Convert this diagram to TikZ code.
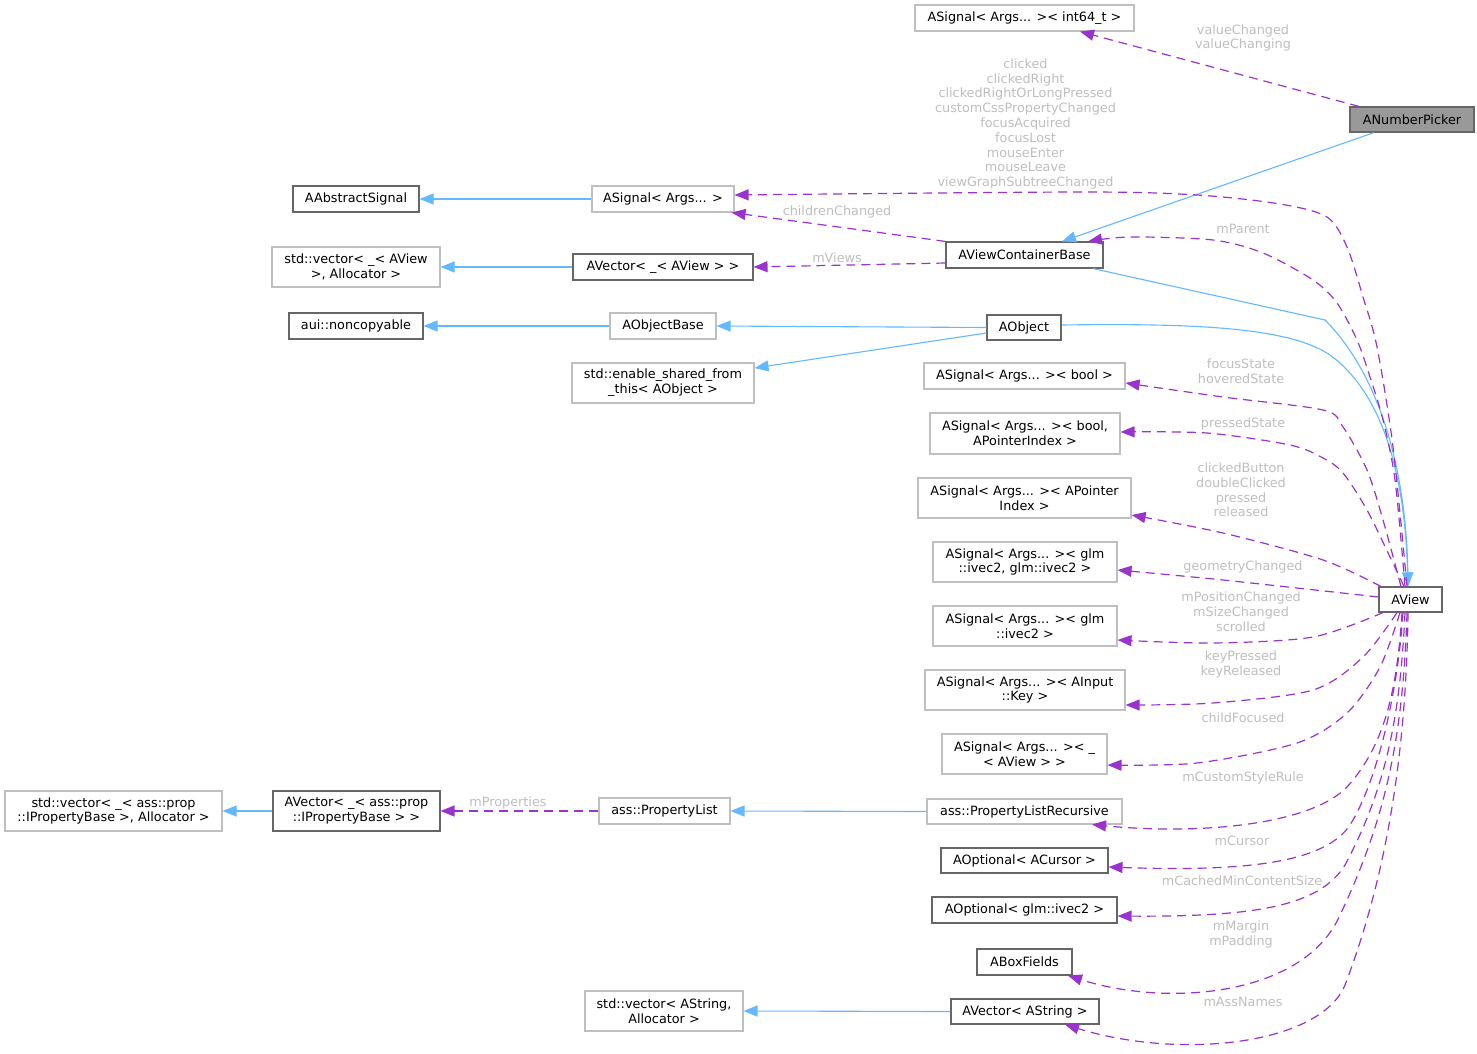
\documentclass[tikz,border=0pt]{standalone}
\usepackage{fontspec}
\setmainfont{DejaVu Sans}
\usetikzlibrary{arrows.meta}
\definecolor{eblue}{HTML}{63B8FF}
\definecolor{epurple}{HTML}{9A32CD}
\definecolor{lgray}{HTML}{BFBFBF}
\definecolor{dgray}{HTML}{666666}
\definecolor{lblgray}{HTML}{BEBEBE}
\definecolor{pfill}{HTML}{999999}
\begin{document}
\begin{tikzpicture}[x=1pt,y=-1pt,
  every node/.style={font=\fontsize{12.8}{14.8}\selectfont, inner sep=0pt, align=center},
  cls/.style={draw=lgray, line width=1.1pt, fill=white},
  doc/.style={draw=dgray, line width=1.1pt, fill=white},
  lbl/.style={text=lblgray},
  inh/.style={draw=eblue, line width=1.1pt, -{Triangle[length=14pt,width=11pt]}},
  use/.style={draw=epurple, line width=1.2pt, dash pattern=on 9pt off 6pt, -{Triangle[length=14pt,width=11pt]}}
]
\useasboundingbox (0,0) rectangle (1477,1053);

% nodes
\node[cls, minimum width=219, minimum height=26] (sigInt) at (1024.5,18) {ASignal< Args... >< int64\_t >};
\node[doc, fill=pfill, minimum width=124, minimum height=25] (picker) at (1412,119.5) {ANumberPicker};
\node[doc, minimum width=126, minimum height=26] (abstractSig) at (356,199) {AAbstractSignal};
\node[cls, minimum width=142, minimum height=26] (sigArgs) at (663,199) {ASignal< Args... >};
\node[cls, minimum width=168, minimum height=40] (vecView) at (356,267) {std::vector< \_< AView\\>, Allocator >};
\node[doc, minimum width=180, minimum height=26] (avecView) at (663,267) {AVector< \_< AView > >};
\node[doc, minimum width=157, minimum height=26] (avcb) at (1024.5,255) {AViewContainerBase};
\node[doc, minimum width=134, minimum height=26] (noncopy) at (356,326) {aui::noncopyable};
\node[cls, minimum width=106, minimum height=26] (objBase) at (663,326) {AObjectBase};
\node[doc, minimum width=74, minimum height=25] (aobject) at (1024,327.5) {AObject};
\node[cls, minimum width=182, minimum height=40] (enableShared) at (663,383) {std::enable\_shared\_from\\\_this< AObject >};
\node[cls, minimum width=201, minimum height=26] (sigBool) at (1024.5,376) {ASignal< Args... >< bool >};
\node[cls, minimum width=190, minimum height=41] (sigBoolPtr) at (1025,433.5) {ASignal< Args... >< bool,\\APointerIndex >};
\node[cls, minimum width=213, minimum height=40] (sigPtr) at (1024.5,498) {ASignal< Args... >< APointer\\Index >};
\node[cls, minimum width=184, minimum height=40] (sigIvecTwo) at (1025,562) {ASignal< Args... >< glm\\::ivec2, glm::ivec2 >};
\node[doc, minimum width=63, minimum height=25] (aview) at (1410.5,599.5) {AView};
\node[cls, minimum width=184, minimum height=40] (sigIvec) at (1025,626) {ASignal< Args... >< glm\\::ivec2 >};
\node[cls, minimum width=200, minimum height=40] (sigKey) at (1025,690) {ASignal< Args... >< AInput\\::Key >};
\node[cls, minimum width=165, minimum height=40] (sigChild) at (1024.5,754) {ASignal< Args... >< \_\\< AView > >};
\node[cls, minimum width=195, minimum height=25] (propRec) at (1024.5,811.5) {ass::PropertyListRecursive};
\node[doc, minimum width=167, minimum height=25] (optCursor) at (1024.5,860.5) {AOptional< ACursor >};
\node[doc, minimum width=185, minimum height=26] (optIvec) at (1024.5,910) {AOptional< glm::ivec2 >};
\node[doc, minimum width=95, minimum height=26] (boxFields) at (1024.5,962) {ABoxFields};
\node[doc, minimum width=148, minimum height=25] (avecStr) at (1025,1011.5) {AVector< AString >};
\node[cls, minimum width=158, minimum height=40] (vecStr) at (664,1011) {std::vector< AString,\\Allocator >};
\node[cls, minimum width=131, minimum height=26] (propList) at (664.5,811) {ass::PropertyList};
\node[doc, minimum width=167, minimum height=40] (avecProp) at (356.5,811) {AVector< \_< ass::prop\\::IPropertyBase > >};
\node[cls, minimum width=217, minimum height=40] (vecProp) at (113.5,811) {std::vector< \_< ass::prop\\::IPropertyBase >, Allocator >};

% anchor coordinates on node borders
\coordinate (s1) at ([xshift=-3.5pt]aview.north);
\coordinate (s2) at ([xshift=-5.5pt]aview.north);
\coordinate (s3) at ([xshift=-9.5pt]aview.north);
\coordinate (s4) at ([xshift=-6.5pt]aview.north);
\coordinate (s5) at ([xshift=-29.5pt]aview.north);
\coordinate (s6) at ([yshift=2.5pt]aview.west);
\coordinate (s7) at ([xshift=-27.5pt]aview.south);
\coordinate (s8) at ([xshift=-13.5pt]aview.south);
\coordinate (s9) at ([xshift=-10.5pt]aview.south);
\coordinate (s10) at ([xshift=-8.5pt]aview.south);
\coordinate (s11) at ([xshift=-7.5pt]aview.south);
\coordinate (s12) at ([xshift=-5.5pt]aview.south);
\coordinate (s13) at ([xshift=-3.5pt]aview.south);
\coordinate (s14) at ([xshift=-2.5pt]aview.south);
\coordinate (avin) at ([xshift=-2.5pt]aview.north);

\coordinate (t1) at ([yshift=4pt]sigArgs.east);
\coordinate (t2) at ([xshift=63.5pt]avcb.north);
\coordinate (t3) at ([yshift=-7pt]sigBool.east);
\coordinate (t4) at ([yshift=1.5pt]sigBoolPtr.east);
\coordinate (t5) at ([yshift=-17pt]sigPtr.east);
\coordinate (t6) at ([yshift=-8pt]sigIvecTwo.east);
\coordinate (t7) at ([yshift=-14pt]sigIvec.east);
\coordinate (t8) at ([yshift=-15pt]sigKey.east);
\coordinate (t9) at ([yshift=-11pt]sigChild.east);
\coordinate (t10) at ([xshift=67.5pt]propRec.south);
\coordinate (t11) at ([yshift=-6.5pt]optCursor.east);
\coordinate (t12) at ([yshift=-6pt]optIvec.east);
\coordinate (t13) at ([xshift=43.5pt]boxFields.south);
\coordinate (t14) at ([xshift=40pt]avecStr.south);

% inheritance edges
\draw[inh] ([xshift=-38pt]picker.south) -- ([xshift=37.5pt]avcb.north);
\draw[inh] (sigArgs.west) -- (abstractSig.east);
\draw[inh] (avecView.west) -- (vecView.east);
\draw[inh] (objBase.west) -- (noncopy.east);
\draw[inh] (aobject.west) -- (objBase.east);
\draw[inh] ([yshift=-5.5pt]aobject.west) -- ([yshift=15pt]enableShared.east);
\draw[inh] (propRec.west) -- (propList.east);
\draw[inh] (avecProp.west) -- (vecProp.east);
\draw[inh] (avecStr.west) -- (vecStr.east);
\draw[inh] ([xshift=68.5pt]avcb.south) -- (1325,320) .. controls (1375,370) and (1406,460) .. (avin);
\draw[inh] ([yshift=2.5pt]aobject.east) .. controls (1200,323) and (1290,328) .. (1330,355) .. controls (1385,395) and (1405,480) .. (avin);

% usage edges
\draw[use] ([xshift=-53pt]picker.north) -- ([xshift=55.5pt]sigInt.south);
\draw[use] (avcb.north west) -- ([xshift=-3pt]sigArgs.south east);
\draw[use] ([yshift=-8pt]avcb.west) -- (avecView.east);
\draw[use] (propList.west) -- (avecProp.east);

\draw[use] plot[smooth, tension=0.5] coordinates {(s1) (1393,447) (1377,347) (1363,297) (1347,247) (1327,217) (1280,204) (1197,195) (1080,192) (t1)};
\draw[use] plot[smooth, tension=0.5] coordinates {(s2) (1395,480) (1383,420) (1370,377) (1357,340) (1337,303) (1313,280) (1263,253) (1213,240) (1130,237) (t2)};
\draw[use] plot[smooth, tension=0.5] coordinates {(s3) (1383,520) (1367,470) (1343,427) (1323,410) (1223,397) (t3)};
\draw[use] plot[smooth, tension=0.5] coordinates {(s4) (1390,557) (1367,510) (1343,473) (1323,458) (1290,445) (1207,433) (t4)};
\draw[use] plot[smooth, tension=0.5] coordinates {(s5) (1323,560) (1223,533) (t5)};
\draw[use] plot[smooth, tension=0.5] coordinates {(s6) (1223,580) (t6)};
\draw[use] plot[smooth, tension=0.5] coordinates {(s7) (1313,637) (1213,643) (t7)};
\draw[use] plot[smooth, tension=0.5] coordinates {(s8) (1363,657) (1313,690) (1213,703) (t8)};
\draw[use] plot[smooth, tension=0.5] coordinates {(s9) (1380,667) (1347,713) (1297,743) (1197,763) (t9)};
\draw[use] (s10) .. controls (1397,690) and (1385,745) .. (1347,787) .. controls (1310,825) and (1200,835) .. (t10);
\draw[use] (s11) .. controls (1398,690) and (1378,780) .. (1350,825) .. controls (1325,862) and (1250,872) .. (t11);
\draw[use] (s12) .. controls (1400,720) and (1385,790) .. (1345,865) .. controls (1320,905) and (1260,917) .. (t12);
\draw[use] (s13) .. controls (1403,740) and (1385,820) .. (1340,915) .. controls (1305,995) and (1170,1008) .. (t13);
\draw[use] (s14) .. controls (1406,760) and (1385,880) .. (1345,985) .. controls (1320,1045) and (1180,1060) .. (t14);

% edge labels
\node[lbl] (l1) at (1243,38) {valueChanged\\valueChanging};
\node[lbl] (l2) at (1025.5,124) {clicked\\clickedRight\\clickedRightOrLongPressed\\customCssPropertyChanged\\focusAcquired\\focusLost\\mouseEnter\\mouseLeave\\viewGraphSubtreeChanged};
\node[lbl] (l3) at (837,212) {childrenChanged};
\node[lbl] (l4) at (837,258) {mViews};
\node[lbl] (l5) at (1243,229) {mParent};
\node[lbl] (l6) at (1241,371) {focusState\\hoveredState};
\node[lbl] (l7) at (1243,424) {pressedState};
\node[lbl] (l8) at (1241,490) {clickedButton\\doubleClicked\\pressed\\released};
\node[lbl] (l9) at (1243,567) {geometryChanged};
\node[lbl] (l10) at (1241,612) {mPositionChanged\\mSizeChanged\\scrolled};
\node[lbl] (l11) at (1241,664.5) {keyPressed\\keyReleased};
\node[lbl] (l12) at (1243,718) {childFocused};
\node[lbl] (l13) at (1243,778) {mCustomStyleRule};
\node[lbl] (l14) at (1242,841) {mCursor};
\node[lbl] (l15) at (1242,881) {mCachedMinContentSize};
\node[lbl] (l16) at (1241,934.5) {mMargin\\mPadding};
\node[lbl] (l17) at (1243,1002) {mAssNames};
\node[lbl] (l18) at (508,803) {mProperties};
\end{tikzpicture}
\end{document}
